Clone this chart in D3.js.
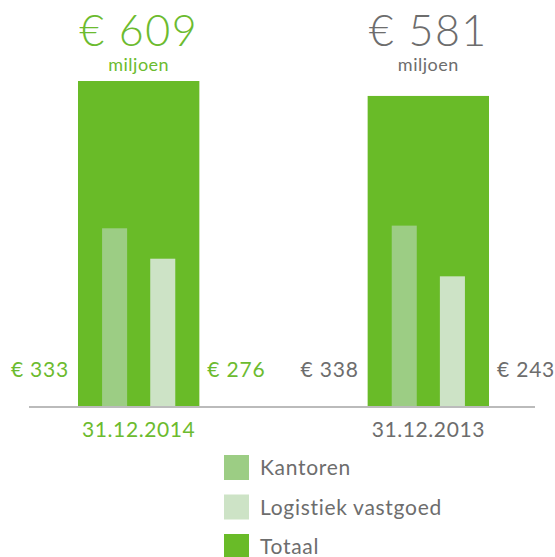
<!DOCTYPE html>
<html>
<head>
<meta charset="utf-8">
<script src="https://cdn.jsdelivr.net/npm/d3@7"></script>
<style>
  body { margin: 0; background: #fff; }
  svg { display: block; font-family: Lato, 'Open Sans', sans-serif; }
</style>
</head>
<body>
<div id="chart"></div>
<script>
// data
var dates = ['31.12.2014', '31.12.2013']
var totals = [609, 581]
var kantoren = [333, 338]
var logistiek = [276, 243]
var series = ['Kantoren', 'Logistiek vastgoed']
var legendLabels = ['Kantoren', 'Logistiek vastgoed', 'Totaal']

var WIDTH = 555
var HEIGHT = 557
var GREEN = '#69bb28'
var TEXT_GREEN = '#6cbb2f'
var TEXT_GRAY = '#6d6d6d'
var colors = { 'Kantoren': '#9ccd84', 'Logistiek vastgoed': '#cde3c6', 'Totaal': GREEN }
// eerste groep groen, de rest grijs
var textColor = (i) => i === 0 ? TEXT_GREEN : TEXT_GRAY

var svg = d3.select('#chart').append('svg')
  .attr('width', WIDTH)
  .attr('height', HEIGHT)

var x = d3.scaleBand()
  .domain(dates)
  .range([-6, 573])
  .paddingInner(0.581)
  .paddingOuter(0.29)

var xSub = d3.scaleBand()
  .domain(series)
  .range([0, x.bandwidth()])
  .paddingInner(0.48)
  .paddingOuter(0.5)

var y = d3.scaleLinear()
  .domain([0, 609])
  .range([406, 81])

var rows = dates.map((d, i) => ({
  date: d,
  total: totals[i],
  parts: [
    { key: 'Kantoren', value: kantoren[i] },
    { key: 'Logistiek vastgoed', value: logistiek[i] }
  ],
  i: i
}))

var groups = svg.selectAll('g.group')
  .data(rows)
  .enter()
  .append('g')
  .attr('class', 'group')
  .attr('transform', d => 'translate(' + x(d.date) + ',0)')

// totaal
groups.append('rect')
  .attr('x', 0)
  .attr('y', d => y(d.total))
  .attr('width', x.bandwidth())
  .attr('height', d => y(0) - y(d.total))
  .attr('fill', GREEN)

// kantoren / logistiek
groups.selectAll('rect.part')
  .data(d => d.parts)
  .enter()
  .append('rect')
  .attr('class', 'part')
  .attr('x', d => xSub(d.key))
  .attr('y', d => y(d.value))
  .attr('width', xSub.bandwidth())
  .attr('height', d => y(0) - y(d.value))
  .attr('fill', d => colors[d.key])

// totaal label boven de staaf
groups.append('text')
  .attr('x', x.bandwidth() / 2)
  .attr('y', 46)
  .attr('text-anchor', 'middle')
  .attr('font-size', 43)
  .attr('font-weight', 300)
  .attr('letter-spacing', 1.5)
  .attr('fill', d => textColor(d.i))
  .text(d => '€ ' + d.total)

groups.append('text')
  .attr('x', x.bandwidth() / 2)
  .attr('y', 71)
  .attr('text-anchor', 'middle')
  .attr('font-size', 18)
  .attr('letter-spacing', 0.5)
  .attr('fill', d => textColor(d.i))
  .text('miljoen')

// waarden naast de staaf
groups.append('text')
  .attr('x', -9)
  .attr('y', 377)
  .attr('text-anchor', 'end')
  .attr('font-size', 21)
  .attr('letter-spacing', 0.8)
  .attr('fill', d => textColor(d.i))
  .text(d => '€ ' + d.parts[0].value)

groups.append('text')
  .attr('x', x.bandwidth() + 8)
  .attr('y', 377)
  .attr('text-anchor', 'start')
  .attr('font-size', 21)
  .attr('letter-spacing', 0.8)
  .attr('fill', d => textColor(d.i))
  .text(d => '€ ' + d.parts[1].value)

// as
svg.append('line')
  .attr('x1', 29)
  .attr('x2', 535)
  .attr('y1', 407)
  .attr('y2', 407)
  .attr('stroke', '#bbbbbb')
  .attr('stroke-width', 2)

groups.append('text')
  .attr('x', x.bandwidth() / 2)
  .attr('y', 437)
  .attr('text-anchor', 'middle')
  .attr('font-size', 21)
  .attr('letter-spacing', 0.6)
  .attr('fill', d => textColor(d.i))
  .text(d => d.date)

// legenda
var legend = svg.append('g')
  .attr('transform', 'translate(224,455)')

var items = legend.selectAll('g.item')
  .data(legendLabels)
  .enter()
  .append('g')
  .attr('class', 'item')
  .attr('transform', (d, i) => 'translate(0,' + i * 39.5 + ')')

items.append('rect')
  .attr('width', 25)
  .attr('height', 25)
  .attr('fill', d => colors[d])

items.append('text')
  .attr('x', 36)
  .attr('y', 20)
  .attr('font-size', 21)
  .attr('letter-spacing', 0.7)
  .attr('fill', TEXT_GRAY)
  .text(d => d)
</script>
</body>
</html>
